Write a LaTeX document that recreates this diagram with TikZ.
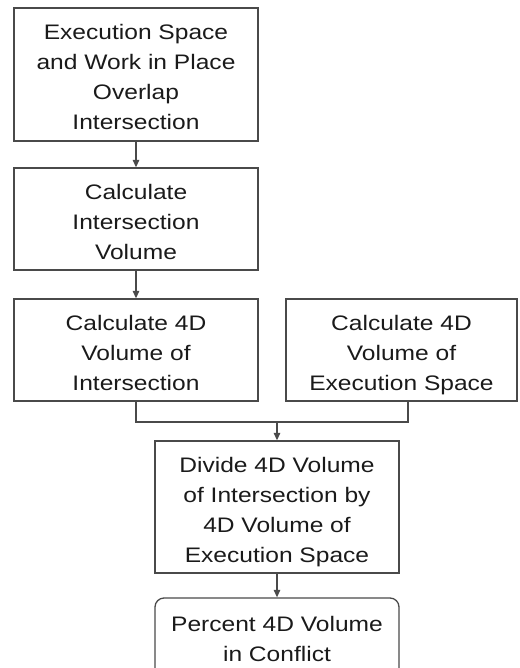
\documentclass[tikz,border=0pt]{standalone}
\usepackage{fontspec}
\setmainfont{Liberation Sans}[FakeStretch=1.17]
\usetikzlibrary{arrows.meta}
\definecolor{edge}{HTML}{4A4A4A}
\definecolor{ink}{HTML}{1A1A1A}
% invisible struts that give every text block the same top and bottom
\newcommand\bxtop{\rule{0pt}{25pt}}
\newcommand\bxlow{\rule{0pt}{19pt}}
\newcommand\bxbot{\rule[-5pt]{0pt}{5pt}}
\tikzset{
  procbox/.style={draw=edge, line width=1.3pt, rectangle, align=center,
    text=ink, inner sep=0pt, font=\fontsize{21}{30}\selectfont},
  endbox/.style={procbox, rounded corners=9pt},
  link/.style={draw=edge, line width=1.2pt},
  flow/.style={link, -{Triangle[length=7.5pt,width=6.5pt]}}
}
\begin{document}
\begin{tikzpicture}[x=1pt,y=-1pt]
  \useasboundingbox (0,0) rectangle (519,668);
  \begin{scope}
    \clip (0,0) rectangle (519,668);
    \node[procbox, minimum width=244pt, minimum height=133pt] (b1) at (136,74.5)
      {\bxtop Execution Space\\and Work in Place\\Overlap\\Intersection\bxbot};
    \node[procbox, minimum width=244pt, minimum height=102pt] (b2) at (136,219)
      {\bxtop Calculate\\Intersection\\Volume\bxbot};
    \node[procbox, minimum width=244pt, minimum height=102pt] (b3) at (136,350)
      {\bxtop Calculate 4D\\Volume of\\Intersection\bxbot};
    \node[procbox, minimum width=231pt, minimum height=102pt] (b4) at (401.5,350)
      {\bxtop Calculate 4D\\Volume of\\Execution Space\bxbot};
    \node[procbox, minimum width=244pt, minimum height=132pt] (b5) at (277,507)
      {\bxtop Divide 4D Volume\\of Intersection by\\4D Volume of\\Execution Space\bxbot};
    \node[endbox, minimum width=244pt, minimum height=82pt] (b6) at (277,639)
      {\bxlow Percent 4D Volume\\in Conflict\bxbot};

    \coordinate (join) at (277,422);
    \draw[flow] (b1.south) -- (b2.north);
    \draw[flow] (b2.south) -- (b3.north);
    \draw[link] (b3.south) |- (join);
    \draw[link] ([xshift=6.5pt]b4.south) |- (join);
    \draw[flow] (join) -- (b5.north);
    \draw[flow] (b5.south) -- (b6.north);
  \end{scope}
\end{tikzpicture}
\end{document}
